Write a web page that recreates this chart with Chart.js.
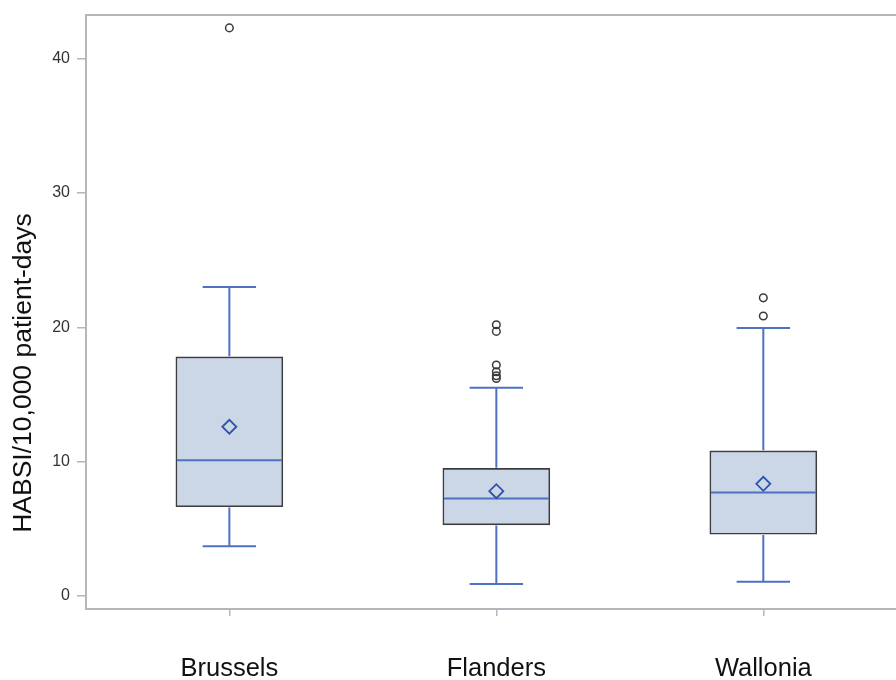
<!DOCTYPE html>
<html>
<head>
<meta charset="utf-8">
<script src="https://cdn.jsdelivr.net/npm/chart.js@4.4.1/dist/chart.umd.min.js"></script>
<style>
  html, body { margin: 0; padding: 0; background: #ffffff; }
  #wrap { width: 896px; height: 680px; }
</style>
</head>
<body>
<div id="wrap"><canvas id="c" width="896" height="680"></canvas></div>
<script>
// ---- Data ----
const categories  = ['Brussels', 'Flanders', 'Wallonia'];
const catPos      = [1, 2, 3];
const q1          = [6.65, 5.3, 4.6];
const median      = [10.1, 7.25, 7.7];
const q3          = [17.8, 9.5, 10.8];
const whiskerLow  = [3.7, 0.9, 1.05];
const whiskerHigh = [23.0, 15.5, 19.95];
const means       = [12.6, 7.8, 8.35];
const outliers    = [[42.3], [20.2, 19.7, 17.2, 16.7, 16.4, 16.2], [22.2, 20.85]];
const yTicks      = [0, 10, 20, 30, 40];
const yTitle      = 'HABSI/10,000 patient-days';

// ---- Build datasets from the arrays ----
const boxData = catPos.map((x, i) => ({ x: x, y: [q1[i], q3[i]] }));
const meanData = catPos.map((x, i) => ({ x: x, y: means[i] }));
const outlierData = [];
outliers.forEach((arr, i) => arr.forEach(v => outlierData.push({ x: catPos[i], y: v })));

const AXIS_COLOR = '#b3b7bb';
const WHISKER_COLOR = '#4d72c2';
const CAP_HALF = 0.1;   // half cap width in x units

const boxPlugin = {
  id: 'boxParts',
  afterDatasetDraw(chart, args) {
    if (args.index !== 0) return;
    const ctx = chart.ctx, xs = chart.scales.x, ys = chart.scales.y;
    const meta = chart.getDatasetMeta(0);
    ctx.save();
    ctx.strokeStyle = WHISKER_COLOR;
    ctx.lineWidth = 2;
    catPos.forEach((c, i) => {
      const xc = xs.getPixelForValue(c);
      const bar = meta.data[i];
      const half = bar.width / 2;
      const xl = xs.getPixelForValue(c - CAP_HALF), xr = xs.getPixelForValue(c + CAP_HALF);
      const yq1 = ys.getPixelForValue(q1[i]), yq3 = ys.getPixelForValue(q3[i]);
      const ylo = ys.getPixelForValue(whiskerLow[i]), yhi = ys.getPixelForValue(whiskerHigh[i]);
      const ymed = ys.getPixelForValue(median[i]);
      ctx.beginPath();
      ctx.moveTo(xc, yq3 - 0.75); ctx.lineTo(xc, yhi);
      ctx.moveTo(xl, yhi); ctx.lineTo(xr, yhi);
      ctx.moveTo(xc, yq1 + 0.75); ctx.lineTo(xc, ylo);
      ctx.moveTo(xl, ylo); ctx.lineTo(xr, ylo);
      ctx.moveTo(xc - half + 1, ymed); ctx.lineTo(xc + half - 1, ymed);
      ctx.stroke();
    });
    ctx.restore();
  },
  afterDraw(chart) {
    const ctx = chart.ctx, a = chart.chartArea;
    ctx.save();
    // top frame line
    ctx.strokeStyle = AXIS_COLOR;
    ctx.lineWidth = 2;
    ctx.beginPath();
    ctx.moveTo(a.left - 1, a.top);
    ctx.lineTo(a.right + 2, a.top);
    ctx.stroke();
    // y axis title
    ctx.fillStyle = '#111111';
    ctx.font = '26.5px "Liberation Sans", Arial, sans-serif';
    ctx.textAlign = 'center';
    ctx.textBaseline = 'middle';
    ctx.translate(24, 373);
    ctx.rotate(-Math.PI / 2);
    ctx.fillText(yTitle, 0, 0);
    ctx.restore();
  }
};

new Chart(document.getElementById('c'), {
  type: 'bar',
  data: {
    datasets: [
      {
        type: 'bar',
        data: boxData,
        backgroundColor: '#cbd6e6',
        borderColor: '#3d3d3d',
        borderWidth: 1.6,
        borderSkipped: false,
        barThickness: 107,
        order: 3
      },
      {
        type: 'scatter',
        data: meanData,
        pointStyle: 'rectRot',
        pointRadius: 7,
        pointBorderWidth: 1.8,
        pointBorderColor: '#2d52aa',
        pointBackgroundColor: 'rgba(0,0,0,0)',
        showLine: false,
        order: 2
      },
      {
        type: 'scatter',
        data: outlierData,
        pointStyle: 'circle',
        pointRadius: 3.8,
        pointBorderWidth: 1.5,
        pointBorderColor: '#3a3a3a',
        pointBackgroundColor: 'rgba(255,255,255,0)',
        showLine: false,
        order: 1
      }
    ]
  },
  options: {
    responsive: false,
    animation: false,
    events: [],
    layout: { autoPadding: false, padding: { top: 15, right: 0, bottom: 0, left: 0 } },
    plugins: { legend: { display: false }, tooltip: { enabled: false }, title: { display: false } },
    scales: {
      x: {
        type: 'linear',
        position: 'bottom',
        offset: false,
        min: 0.463,
        max: 3.497,
        afterBuildTicks: s => { s.ticks = catPos.map(v => ({ value: v })); },
        afterFit: s => { s.height = 71; s.paddingLeft = 0; s.paddingRight = 0; },
        grid: { offset: false, drawOnChartArea: false, drawTicks: true, tickLength: 7, color: AXIS_COLOR, lineWidth: 1.5 },
        border: { display: true, color: AXIS_COLOR, width: 2 },
        ticks: {
          autoSkip: false,
          maxRotation: 0,
          padding: 38,
          color: '#111111',
          font: { family: '"Liberation Sans", Arial, sans-serif', size: 25.5 },
          callback: (v) => { const i = catPos.indexOf(v); return i >= 0 ? categories[i] : ''; }
        }
      },
      y: {
        type: 'linear',
        min: -0.97,
        max: 43.26,
        afterBuildTicks: s => { s.ticks = yTicks.map(v => ({ value: v })); },
        afterFit: s => { s.width = 86; s.paddingTop = 0; s.paddingBottom = 0; },
        grid: { drawOnChartArea: false, drawTicks: true, tickLength: 9, color: AXIS_COLOR, lineWidth: 1.5 },
        border: { display: true, color: AXIS_COLOR, width: 2 },
        ticks: {
          padding: 7,
          color: '#333333',
          font: { family: '"Liberation Sans", Arial, sans-serif', size: 16 },
          callback: v => String(v)
        }
      }
    }
  },
  plugins: [boxPlugin]
});
</script>
</body>
</html>
